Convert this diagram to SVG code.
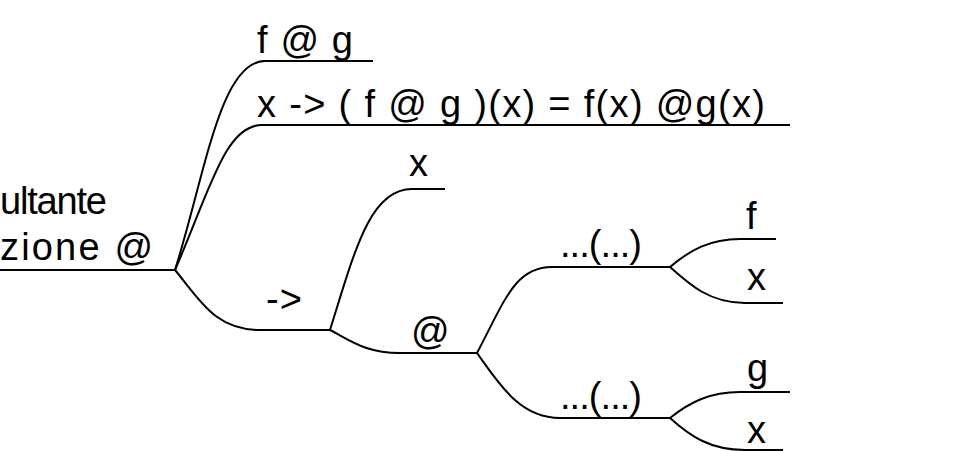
<svg xmlns="http://www.w3.org/2000/svg" width="978" height="451" viewBox="0 0 978 451">
<style>
  .t { font-family: "Liberation Sans", Arial, sans-serif; font-size: 38px; fill: #000; }
  .c { fill: none; stroke: #000; stroke-width: 2; }
</style>
<rect width="978" height="451" fill="#fff"/>
<g id="connectors">
  <path class="c" d="M175,270 C205,175 220,61 265,61"/>
  <path class="c" d="M175,270 C210,190 225,125 262,125"/>
  <path class="c" d="M175,270 C200,300 215,330 260,330"/>
  <path class="c" d="M330,330 C355,250 370,189 412,189"/>
  <path class="c" d="M330,330 C350,340 365,353 400,353"/>
  <path class="c" d="M477,353 C505,300 515,267 552,267"/>
  <path class="c" d="M477,353 C500,385 520,418 560,418"/>
  <path class="c" d="M670,267 C690,250 710,239 740,239"/>
  <path class="c" d="M670,267 C690,285 710,303 745,303"/>
  <path class="c" d="M670,418 C690,402 710,392 740,392"/>
  <path class="c" d="M670,418 C690,436 710,450 745,450"/>
</g>
<g id="root">
  <line class="c" x1="0" y1="270" x2="175" y2="270"/>
  <text class="t" x="0" y="214" textLength="107" lengthAdjust="spacing">ultante</text>
  <text class="t" x="0" y="260" textLength="153" lengthAdjust="spacing">zione @</text>
</g>
<g id="node-fg">
  <line class="c" x1="262" y1="61" x2="373" y2="61"/>
  <text class="t" x="257" y="53" textLength="96" lengthAdjust="spacing">f @ g</text>
</g>
<g id="node-def">
  <line class="c" x1="260" y1="125" x2="790" y2="125"/>
  <text class="t" x="257" y="117" textLength="508" lengthAdjust="spacing">x  -&gt; ( f @ g )(x) = f(x)  @g(x)</text>
</g>
<g id="node-arrow">
  <line class="c" x1="257" y1="330" x2="330" y2="330"/>
  <text class="t" x="266" y="312" textLength="36" lengthAdjust="spacing">-&gt;</text>
</g>
<g id="node-x1">
  <line class="c" x1="410" y1="189" x2="445" y2="189"/>
  <text class="t" x="409" y="176">x</text>
</g>
<g id="node-at">
  <line class="c" x1="395" y1="353" x2="477" y2="353"/>
  <text class="t" x="411" y="344">@</text>
</g>
<g id="node-app1">
  <line class="c" x1="550" y1="267" x2="670" y2="267"/>
  <text class="t" x="560" y="257" textLength="82" lengthAdjust="spacing">...(...)</text>
</g>
<g id="node-f">
  <line class="c" x1="740" y1="239" x2="776" y2="239"/>
  <text class="t" x="746" y="229">f</text>
</g>
<g id="node-x2">
  <line class="c" x1="743" y1="303" x2="783" y2="303"/>
  <text class="t" x="747" y="290">x</text>
</g>
<g id="node-app2">
  <line class="c" x1="557" y1="418" x2="670" y2="418"/>
  <text class="t" x="560" y="409" textLength="82" lengthAdjust="spacing">...(...)</text>
</g>
<g id="node-g">
  <line class="c" x1="740" y1="392" x2="790" y2="392"/>
  <text class="t" x="747" y="381">g</text>
</g>
<g id="node-x3">
  <line class="c" x1="743" y1="450" x2="783" y2="450"/>
  <text class="t" x="747" y="443">x</text>
</g>
</svg>
